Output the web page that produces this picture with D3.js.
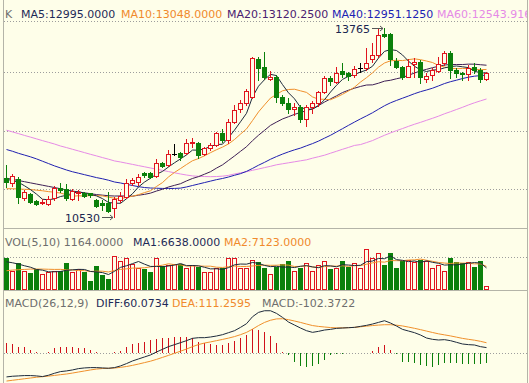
<!DOCTYPE html>
<html><head><meta charset="utf-8">
<script src="https://cdn.jsdelivr.net/npm/d3@7/dist/d3.min.js"></script>
<style>html,body{margin:0;padding:0;background:#FEFEE9;}svg{display:block}</style>
</head><body><svg id="c" width="529" height="383"></svg>
<script>
// ---- data ----
const opens  = [11199,11102,11170,10846,10920,10800,10760,10749,10846,11017,11000,10828,10931,10942,10931,10817,10760,10760,10675,10817,10874,11102,11130,11273,11273,11227,11455,11415,11600,11615,11615,11786,11797,11598,11700,11757,11957,11843,12145,12367,12470,12583,13222,13085,12880,12914,12583,12470,12367,12413,12196,12401,12470,12669,12897,12840,13028,12983,12954,13068,13068,13222,13296,13655,13655,13199,13085,12925,13136,13182,12886,12954,13028,13153,13336,13039,12994,12971,13085,13039,12880];
const highs  = [11415,11262,11205,10988,10942,10817,10828,10885,11056,11113,11085,11000,10988,10960,10942,10834,10817,10960,10874,10960,11170,11188,11262,11301,11301,11512,11472,11672,11774,11643,11854,11871,11814,11729,11786,11985,12025,12202,12441,12527,12709,13267,13267,13353,13028,12954,12612,12555,12470,12441,12441,12515,12686,12937,12937,13096,13165,13011,13108,13165,13410,13495,13740,13765,13677,13239,13108,13222,13239,13210,12983,13068,13267,13370,13370,13068,13011,13125,13153,13068,13011];
const lows   = [11045,11056,10771,10817,10771,10732,10749,10732,10817,10960,10817,10817,10817,10863,10874,10703,10646,10618,10530,10789,10846,11073,11073,11205,11188,11216,11376,11404,11586,11501,11603,11729,11529,11581,11672,11740,11814,11786,12128,12327,12441,12555,12868,12880,12868,12498,12441,12299,12270,12156,12082,12299,12424,12652,12783,12811,12925,12868,12925,13011,13039,13182,13267,13609,13125,13068,12880,12914,12925,12811,12840,12868,13011,13125,12897,12925,12868,12868,12983,12840,12868];
const closes = [11130,11227,10874,10954,10789,10743,10789,10834,11028,10988,10846,10971,10960,10886,10903,10720,10732,10635,10828,10886,11113,11159,11216,11244,11216,11455,11398,11598,11600,11546,11797,11814,11586,11712,11757,11957,11843,12145,12356,12470,12680,13239,13068,12914,12925,12572,12470,12367,12401,12196,12413,12470,12669,12908,12851,12994,12971,12937,13051,13068,13165,13296,13638,13621,13222,13085,12914,13108,13182,12925,12937,13039,13142,13336,13039,12983,12971,13068,13039,12880,12994];
const volumes = [9700,5700,8000,5700,5200,6300,4700,5500,5700,5700,8000,5500,6200,5500,2700,7300,4500,3300,10300,8700,9700,7700,6500,6300,5300,9700,7300,7500,7700,7700,6500,7500,7000,5500,5300,6700,6500,9700,9700,6500,6500,9000,8500,6500,4700,7000,7700,8700,5700,6700,8000,5700,7500,8800,6300,6700,8800,7000,8000,6700,12200,9700,11000,7500,11000,6500,8700,9000,8500,9000,8700,6500,7500,5800,9500,8500,8000,8500,6800,8800,1164];
const diffVals = [-248.5,-241.5,-238,-234.5,-234.5,-238,-245,-231,-210,-192.5,-185.5,-175,-161,-154,-150.5,-150.5,-154,-157.5,-150.5,-133,-108.5,-80.5,-59.5,-38.5,-17.5,14,42,70,91,112,133,157.5,164.5,164.5,171.5,182,196,217,238,273,311.5,385,430.5,448,448,420,378,329,297.5,266,238,220.5,231,245,252,262.5,266,269.5,273,283.5,294,308,325.5,343,318.5,287,252,234.5,217,192.5,161,147,140,143.5,133,115.5,98,91,87.5,70,60.07];
const deaVals = [-292,-284,-276,-268,-260,-252,-246,-240,-233,-225,-218,-208,-197,-186,-175,-166,-160,-158,-155,-148,-139,-127,-113,-98,-83,-64,-43,-22,0,22,45,70,92,108,120,133,146,160,176,196,220,254,292,325,348,362,364,354,340,325,308,292,283,277,271,268,268,270,273,279,286,292,297,301,301,296,288,276,263,249,234,219,205,194,183,170,157,147,138,126,111.26];
const macdVals = [105,98,70,63,35,18,7,18,53,63,63,63,53,53,35,18,7,7,18,28,63,98,105,123,140,150,158,165,168,168,168,158,123,105,98,88,88,105,133,158,193,252,245,228,182,105,18,-18,-88,-133,-140,-133,-112,-70,-18,-7,-3,0,0,3,7,25,63,88,35,-7,-88,-88,-98,-123,-133,-140,-123,-98,-105,-105,-112,-112,-112,-112,-102.37];
// moving-average values before a full window exists
const ma5Lead  = [11170,11150,11120,11060];
const ma10Lead = [11010,11010,11005,11000,10995,10985,10975,10960,10950];
const ma20Lead = [11190,11170,11150,11130,11110,11090,11070,11050,11030,11010,10990,10970,10955,10940,10925,10910,10900,10890,10885];
const ma40Lead = [11680,11650,11615,11585,11555,11520,11480,11440,11400,11365,11330,11300,11275,11250,11225,11200,11180,11155,11125,11108,11085,11065,11045,11030,11022,11018,11015,11014,11015,11020,11040,11065,11090,11115,11140,11165,11185,11210,11240];
const ma60Lead = [12010,11981,11952,11921,11892,11862,11832,11803,11774,11740,11713,11684,11656,11627,11598,11571,11542,11515,11485,11467,11446,11426,11405,11385,11364,11344,11323,11303,11282,11262,11244,11229,11222,11218,11216,11218,11225,11238,11262,11282,11301,11325,11347,11371,11393,11419,11436,11453,11470,11487,11504,11532,11557,11583,11617,11650,11684,11716,11750];
const volMa5Lead  = [8500,8200,7800,7300];
const volMa10Lead = [5800,6000,6100,6200,6300,6300,6300,6250,6200];
const extremes = [{i:63, label:"13765", value:13765, pos:"high"}, {i:18, label:"10530", value:10530, pos:"low"}];
const gridPrices = [13000,12000,11000];
const gridVols = [10000];
const kLegend = [["K",5,"#6e6e6e"],["MA5:12995.0000",21,"#1f2a58"],["MA10:13048.0000",121,"#f08a2c"],["MA20:13120.2500",227,"#4a2070"],["MA40:12951.1250",332,"#1c22b4"],["MA60:12543.9167",437,"#e58ae6"]];
const volLegend = [["VOL(5,10) 1164.0000",5,"#6e6e6e"],["MA1:6638.0000",133,"#1f2a58"],["MA2:7123.0000",224,"#f08a2c"]];
const macdLegend = [["MACD(26,12,9)",5,"#6e6e6e"],["DIFF:60.0734",96,"#1f2a58"],["DEA:111.2595",172,"#f08a2c"],["MACD:-102.3722",262,"#6e6e6e"]];

// ---- drawing ----
const W = 529, H = 383;
const BG = "#FEFEE9", RED = "#E0141E", GREEN = "#0B800B";
const C_MA5 = "#1e2b3c", C_MA10 = "#f0902c", C_MA20 = "#3e1f55", C_MA40 = "#2020b0", C_MA60 = "#e68ae6";
const svg = d3.select("#c");
svg.append("rect").attr("width", W).attr("height", H).attr("fill", BG);
const defs = svg.append("defs");
defs.append("clipPath").attr("id", "clipR").append("rect").attr("x", 0).attr("y", 0).attr("width", 527).attr("height", H);

const n = closes.length;
const x = d3.scaleBand().domain(d3.range(n)).range([3, 3 + 6 * n]);
const cx = i => Math.round(x(i) + x.bandwidth() / 2);
const y = d3.scaleLinear().domain([11000, 13000]).range([189.3, 72.3]);
const yv = d3.scaleLinear().domain([0, 10000]).range([290, 256.8]);
const ym = d3.scaleLinear().domain([0, 100]).range([353.3, 343.8]);
const py = v => Math.round(v);

const g = svg.append("g").attr("clip-path", "url(#clipR)");
const dot = (yy) => g.append("line").attr("x1", 4).attr("x2", 527).attr("y1", yy).attr("y2", yy)
  .attr("stroke", "#9d9d9d").attr("stroke-dasharray", "1,2").attr("stroke-width", 1);
dot(21.5);
gridPrices.forEach(p => dot(py(y(p)) + 0.5));
gridVols.forEach(v => dot(py(yv(v)) + 0.5));
dot(py(ym(0)) + 0.5);

// frame lines
const frame = svg.append("g").attr("stroke", "#b4b4a8").attr("stroke-width", 1);
frame.append("line").attr("x1", 3.5).attr("x2", 3.5).attr("y1", 0).attr("y2", H);
frame.append("line").attr("x1", 527.5).attr("x2", 527.5).attr("y1", 0).attr("y2", H);
frame.append("line").attr("x1", 3).attr("x2", 528).attr("y1", 228.5).attr("y2", 228.5);
frame.append("line").attr("x1", 3).attr("x2", 528).attr("y1", 290.5).attr("y2", 290.5);

// moving averages
function ma(arr, k, lead) {
  return arr.map((c, i) => i < k - 1 ? lead[i] : d3.mean(arr.slice(i - k + 1, i + 1)));
}
const lineP = d3.line().x((d, i) => cx(i) + 0.5).y(d => y(d));
[[ma(closes, 60, ma60Lead), C_MA60], [ma(closes, 40, ma40Lead), C_MA40], [ma(closes, 20, ma20Lead), C_MA20],
 [ma(closes, 10, ma10Lead), C_MA10], [ma(closes, 5, ma5Lead), C_MA5]].forEach(([s, col]) => {
  g.append("path").attr("d", lineP(s)).attr("fill", "none").attr("stroke", col).attr("stroke-width", 1);
});

// candles
const cg = g.append("g");
for (let i = 0; i < n; i++) {
  const o = opens[i], c = closes[i], h = highs[i], l = lows[i];
  const X = cx(i);
  const top = py(y(Math.max(o, c))), bot = py(y(Math.min(o, c)));
  const yh = py(y(h)), yl = py(y(l));
  if (o === c) {
    cg.append("line").attr("x1", X + 0.5).attr("x2", X + 0.5).attr("y1", yh).attr("y2", yl + 1).attr("stroke", "#000");
    cg.append("line").attr("x1", X - 2).attr("x2", X + 3).attr("y1", top + 0.5).attr("y2", top + 0.5).attr("stroke", "#000");
  } else if (c > o) {
    cg.append("line").attr("x1", X + 0.5).attr("x2", X + 0.5).attr("y1", yh).attr("y2", top).attr("stroke", RED);
    cg.append("line").attr("x1", X + 0.5).attr("x2", X + 0.5).attr("y1", bot).attr("y2", yl + 1).attr("stroke", RED);
    cg.append("rect").attr("x", X - 1.5).attr("y", top + 0.5).attr("width", 4).attr("height", Math.max(1, bot - top))
      .attr("fill", BG).attr("stroke", RED);
  } else {
    cg.append("line").attr("x1", X + 0.5).attr("x2", X + 0.5).attr("y1", yh).attr("y2", yl + 1).attr("stroke", GREEN);
    cg.append("rect").attr("x", X - 2).attr("y", top).attr("width", 5).attr("height", Math.max(1, bot - top + 1))
      .attr("fill", GREEN);
  }
}

// extreme labels with arrows
extremes.forEach(e => {
  const X = cx(e.i);
  const Y = py(y(e.value)) + 0.5;
  const ax2 = X - 1, ax1 = ax2 - 11;
  g.append("path").attr("d", `M${ax1},${Y}H${ax2}M${ax2 - 3},${Y - 2.5}L${ax2},${Y}L${ax2 - 3},${Y + 2.5}`)
    .attr("fill", "none").attr("stroke", "#555").attr("stroke-width", 1);
  g.append("text").attr("x", ax1 - 2).attr("y", Y + 4).attr("text-anchor", "end")
    .attr("font-family", "DejaVu Sans, Verdana, sans-serif").attr("font-size", 11).attr("fill", "#1a2550").text(e.label);
});

// volume
const vg = g.append("g");
const vbase = py(yv(0));
for (let i = 0; i < n; i++) {
  const X = cx(i);
  const t = py(yv(volumes[i]));
  const up = closes[i] >= opens[i];
  if (up) vg.append("rect").attr("x", X - 1.5).attr("y", t + 0.5).attr("width", 4).attr("height", Math.max(1, vbase - t - 1))
    .attr("fill", BG).attr("stroke", RED);
  else vg.append("rect").attr("x", X - 2).attr("y", t).attr("width", 5).attr("height", vbase - t).attr("fill", GREEN);
}
const lineV = d3.line().x((d, i) => cx(i) + 0.5).y(d => yv(d));
vg.append("path").attr("d", lineV(ma(volumes, 10, volMa10Lead))).attr("fill", "none").attr("stroke", C_MA10);
vg.append("path").attr("d", lineV(ma(volumes, 5, volMa5Lead))).attr("fill", "none").attr("stroke", C_MA5);

// MACD
const mg = g.append("g");
const z = py(ym(0));
macdVals.forEach((v, i) => {
  const t = py(ym(v));
  if (t === z) return;
  mg.append("line").attr("x1", cx(i) + 0.5).attr("x2", cx(i) + 0.5).attr("y1", z).attr("y2", t)
    .attr("stroke", v > 0 ? "#D0101A" : GREEN);
});
const lineM = d3.line().x((d, i) => cx(i) + 0.5).y(d => ym(d));
mg.append("path").attr("d", lineM(deaVals)).attr("fill", "none").attr("stroke", C_MA10);
mg.append("path").attr("d", lineM(diffVals)).attr("fill", "none").attr("stroke", C_MA5);

// legends
function legend(items, yy) {
  items.forEach(([t, xx, col]) => g.append("text").attr("x", xx).attr("y", yy)
    .attr("font-family", "DejaVu Sans, Verdana, sans-serif").attr("font-size", 11).attr("fill", col).text(t));
}
legend(kLegend, 18);
legend(volLegend, 246);
legend(macdLegend, 307);
</script></body></html>
